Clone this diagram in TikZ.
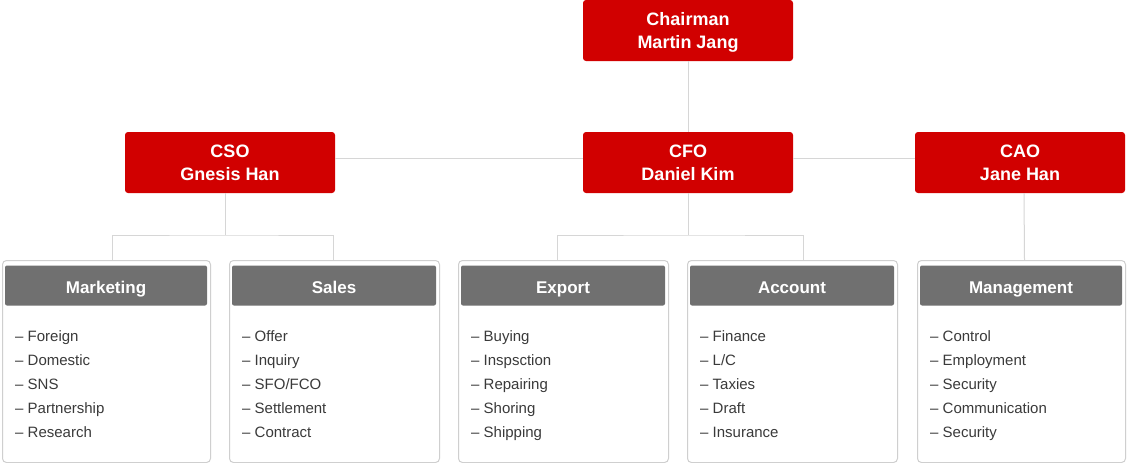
\documentclass[tikz,border=0pt]{standalone}
\usepackage{fontspec}
\setmainfont{Liberation Sans}
\definecolor{cred}{HTML}{D10000}
\definecolor{chead}{HTML}{707070}
\definecolor{cline}{HTML}{D6D6D6}
\definecolor{cbord}{HTML}{CFCFCF}
\definecolor{ctext}{HTML}{3A3A3A}
\tikzset{
  redbox/.style={fill=cred, text=white, rounded corners=3pt, minimum width=210, minimum height=61,
    align=center, inner sep=0pt, text depth=-4pt, font=\bfseries\fontsize{18}{23}\selectfont},
  outerbox/.style={draw=cbord, line width=1pt, rounded corners=4pt, minimum height=202, inner sep=0pt, fill=white},
  header/.style={fill=chead, text=white, rounded corners=2pt, minimum height=40, inner sep=0pt,
    text height=12.2pt, text depth=0pt, font=\bfseries\fontsize{17}{20}\selectfont},
  item/.style={text=ctext, inner sep=0pt, font=\fontsize{15}{18}\selectfont},
  conn/.style={draw=cline, line width=1pt}
}
\newcommand\deptbox[5]{%
  \node[outerbox, minimum width=#3, anchor=north west] (#1) at (#2,-260) {};
  \node[header, minimum width=#3-6] (#1h) at (#2+#3/2,-285.5) {\raisebox{-2pt}{#4}};
  \foreach \itm [count=\i] in {#5} {
    \node[item, anchor=base west] (#1i\i) at (#2+13,-317.4-24*\i) {– \itm};
  }
}
\begin{document}
\begin{tikzpicture}[x=1pt,y=1pt]
\useasboundingbox (0,0) rectangle (1127,-463);
\fill[white] (0,0) rectangle (1127,-463);

\node[redbox] (chair) at (688,-30.5) {Chairman\\Martin Jang};
\node[redbox] (cso) at (230,-162.5) {CSO\\Gnesis Han};
\node[redbox] (cfo) at (688,-162.5) {CFO\\Daniel Kim};
\node[redbox] (cao) at (1020,-162.5) {CAO\\Jane Han};

\deptbox{mkt}{2}{208}{Marketing}{Foreign,Domestic,SNS,Partnership,Research}
\deptbox{sal}{229}{210}{Sales}{Offer,Inquiry,SFO/FCO,Settlement,Contract}
\deptbox{exp}{458}{210}{Export}{Buying,Inspsction,Repairing,Shoring,Shipping}
\deptbox{acc}{687}{210}{Account}{Finance,L/C,Taxies,Draft,Insurance}
\deptbox{mgt}{917}{208}{Management}{Control,Employment,Security,Communication,Security}

\coordinate (csoj) at (225,-235);
\coordinate (cfoj) at (688,-235);

\draw[conn] (chair.south) -- (cfo.north);
\draw[conn] ([yshift=4.5pt]cso.east) -- ([yshift=4.5pt]cfo.west);
\draw[conn] ([yshift=4.5pt]cfo.east) -- ([yshift=4.5pt]cao.west);
\draw[conn] ([xshift=-5pt]cso.south) -- (csoj);
\draw[conn] ([xshift=6pt]mkt.north) |- (csoj) -| ([xshift=-1pt]sal.north);
\draw[conn] (cfo.south) -- (cfoj);
\draw[conn] ([xshift=-6pt]exp.north) |- (cfoj) -| ([xshift=11pt]acc.north);
\draw[conn] ([xshift=4pt]cao.south) -- ([xshift=3pt]mgt.north);
\end{tikzpicture}
\end{document}
